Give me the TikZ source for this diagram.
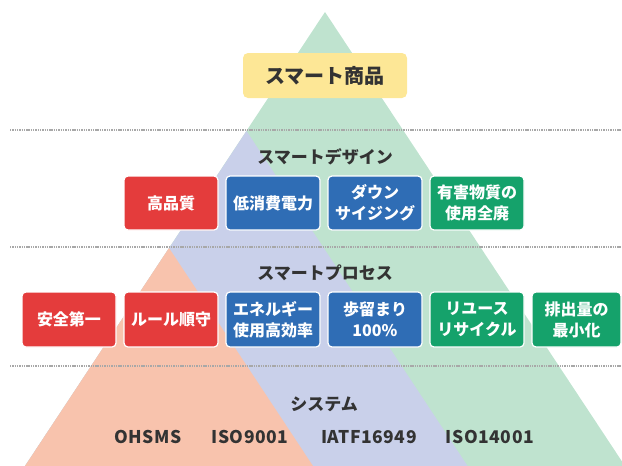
\documentclass[tikz,border=0pt]{standalone}
\usepackage{fontspec}
\setmainfont{Noto Sans CJK JP}
\definecolor{trigreen}{HTML}{BFE3CF}
\definecolor{triblue}{HTML}{C9D0EA}
\definecolor{trisalmon}{HTML}{F8C3AD}
\definecolor{boxred}{HTML}{E43C3C}
\definecolor{boxblue}{HTML}{2F6DB5}
\definecolor{boxgreen}{HTML}{15A26B}
\definecolor{boxyellow}{HTML}{FDE796}
\definecolor{txtgray}{HTML}{333333}
\definecolor{dotgray}{HTML}{A8A8A8}
\tikzset{
  itembox/.style={rounded corners=4pt, draw=white, line width=1.2pt,
    minimum width=94pt, minimum height=54pt, text=white, align=center,
    inner sep=0pt, font=\bfseries\fontsize{16}{21}\selectfont},
  redbox/.style={itembox, fill=boxred},
  bluebox/.style={itembox, fill=boxblue},
  greenbox/.style={itembox, fill=boxgreen},
  heading/.style={text=txtgray, font=\bfseries\fontsize{17}{20}\selectfont, inner sep=0pt},
  stdlabel/.style={text=txtgray, font=\bfseries\fontsize{17.5}{20}\selectfont\addfontfeature{LetterSpace=3}, inner sep=0pt},
  sepline/.style={dotgray, line width=1.4pt, dash pattern=on 1.4pt off 0.9pt}
}
\begin{document}
\begin{tikzpicture}[x=1pt,y=-1pt]
\useasboundingbox (0,0) rectangle (622,466);
\clip (0,0) rectangle (622,466);
% triangles
\fill[trigreen] (325,12) -- (25,466) -- (625,466) -- cycle;
\fill[triblue] (246.5,131) -- (25,466) -- (467.6,466) -- cycle;
\fill[trisalmon] (169,248) -- (25,466) -- (313,466) -- cycle;
% dotted separators
\draw[sepline] (10,130) -- (622,130);
\draw[sepline] (10,247) -- (622,247);
\draw[sepline] (10,366) -- (622,366);
% top
\node[rounded corners=5pt, fill=boxyellow, minimum width=164pt, minimum height=45pt,
  inner sep=0pt, text=txtgray, font=\bfseries\fontsize{20}{24}\selectfont] (top) at (325,75.5) {スマート商品};
% design
\node[heading] (design) at (325,157) {スマートデザイン};
\node[redbox] (d1) at (171,203) {高品質};
\node[bluebox] (d2) at (273,203) {低消費電力};
\node[bluebox] (d3) at (375,203) {ダウン\\サイジング};
\node[greenbox] (d4) at (477,203) {有害物質の\\使用全廃};
% process
\node[heading] (process) at (325,273) {スマートプロセス};
\node[redbox, minimum height=55pt] (p1) at (69,319.5) {安全第一};
\node[redbox, minimum height=55pt] (p2) at (171,319.5) {ルール順守};
\node[bluebox, minimum height=55pt] (p3) at (273,319.5) {エネルギー\\使用高効率};
\node[bluebox, minimum height=55pt] (p4) at (375,319.5) {歩留まり\\100\%};
\node[greenbox, minimum height=55pt] (p5) at (477,319.5) {リユース\\リサイクル};
\node[greenbox, minimum height=55pt, minimum width=89pt] (p6) at (576.5,319.5) {排出量の\\最小化};
% system
\node[heading] (system) at (324,404) {システム};
\node[stdlabel] (s1) at (148,437) {OHSMS};
\node[stdlabel] (s2) at (250,437) {ISO9001};
\node[stdlabel] (s3) at (369,437) {IATF16949};
\node[stdlabel] (s4) at (490,437) {ISO14001};
\end{tikzpicture}
\end{document}
